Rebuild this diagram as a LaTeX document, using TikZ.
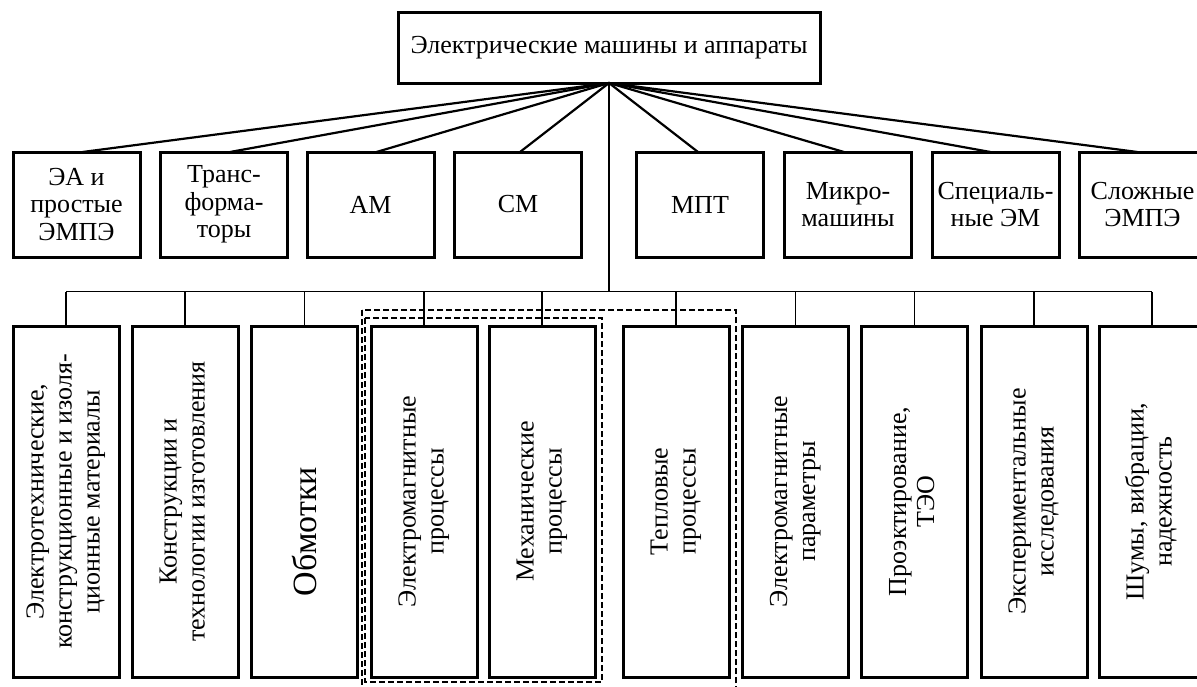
\documentclass[tikz,border=0pt]{standalone}
\usepackage{fontspec}
\setmainfont{Liberation Serif}
\usepackage{graphicx}
\usetikzlibrary{calc}
\newcommand{\vtext}[1]{\rotatebox{90}{\begin{tabular}{@{}c@{}}#1\end{tabular}}}
\tikzset{
  boxbase/.style={draw, line width=3pt, rectangle, inner sep=0pt, outer sep=0pt, align=center,
    font=\fontsize{26}{27.5}\selectfont},
  topbox/.style={boxbase, minimum width=422pt, minimum height=71pt},
  midbox/.style={boxbase, minimum width=127pt, minimum height=105pt},
  lowbox/.style={boxbase, minimum width=106pt, minimum height=351pt,
    font=\fontsize{26}{28}\selectfont},
  fanline/.style={line width=2.2pt},
  busline/.style={line width=1.8pt},
  dashbox/.style={line width=1.3pt, dash pattern=on 6pt off 3pt}
}
\begin{document}
\begin{tikzpicture}[x=1pt,y=-1pt]
\useasboundingbox (0,0) rectangle (1197,686);
\clip (0,0) rectangle (1197,686);
\fill[white] (0,0) rectangle (1197,686);

\node[topbox] (top) at (609,47.5) {Электрические машины и аппараты};

\node[midbox] (m1) at (76.5,204.5) {ЭА и\\простые\\ЭМПЭ};
\node[midbox] (m2) at (224,204.5) {Транс-\\форма-\\торы};
\node[midbox] (m3) at (370.5,204.5) {АМ};
\node[midbox] (m4) at (518,204.5) {СМ};
\node[midbox] (m5) at (700,204.5) {МПТ};
\node[midbox] (m6) at (848,204.5) {Микро-\\машины};
\node[midbox] (m7) at (995.5,204.5) {Специаль-\\ные ЭМ};
\node[midbox] (m8) at (1142.5,204.5) {Сложные\\ЭМПЭ};

\node[lowbox] (b1) at (66,501.5) {\vtext{Электротехнические,\\конструкционные и изоля-\\ционные материалы}};
\node[lowbox] (b2) at (185,501.5) {\vtext{Конструкции и\\технологии изготовления}};
\node[lowbox] (b3) at (304.5,501.5) {\rotatebox{90}{\fontsize{34}{34}\selectfont Обмотки\hspace{60pt}}};
\node[lowbox] (b4) at (424,501.5) {\vtext{Электромагнитные\\процессы}};
\node[lowbox] (b5) at (542,501.5) {\vtext{Механические\\процессы}};
\node[lowbox] (b6) at (676,501.5) {\vtext{Тепловые\\процессы}};
\node[lowbox] (b7) at (795.5,501.5) {\vtext{Электромагнитные\\параметры}};
\node[lowbox] (b8) at (914.5,501.5) {\vtext{Проэктирование,\\ТЭО}};
\node[lowbox] (b9) at (1034,501.5) {\vtext{Экспериментальные\\исследования}};
\node[lowbox] (b10) at (1152,501.5) {\vtext{Шумы, вибрации,\\надежность}};

% fan connectors
\foreach \i/\d in {1/6,2/6,3/6,4/2,5/-2,6/-4,7/-5,8/-5}
  \draw[fanline] (top.south) -- ([xshift=\d pt]m\i.north);

% trunk and bus
\coordinate (bus) at (609,291.5);
\draw[busline] (top.south) -- (bus);
\draw[busline] (b1.north |- bus) -- (b10.north |- bus);
\foreach \i in {1,...,10}
  \draw[busline] (b\i.north) -- (b\i.north |- bus);

% dashed groupings
\draw[dashbox] ([xshift=-6pt,yshift=8pt]b4.north west) rectangle ([xshift=7pt,yshift=-5pt]b5.south east);
\draw[dashbox] ([xshift=-9pt,yshift=16pt]b4.north west) rectangle ([xshift=7pt,yshift=-15pt]b6.south east);
\end{tikzpicture}
\end{document}
